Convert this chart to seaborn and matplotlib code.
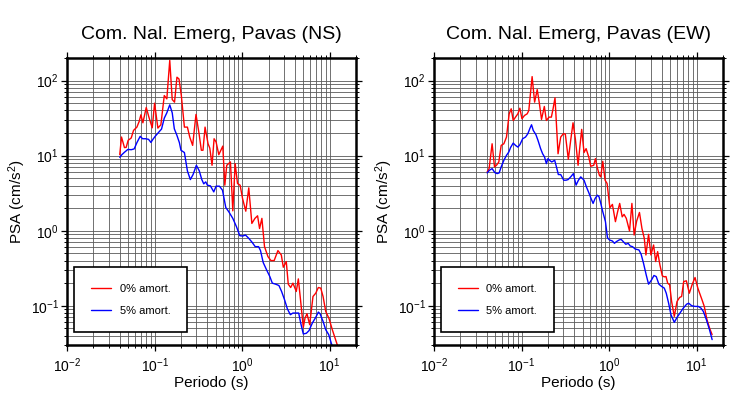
import numpy as np
import pandas as pd
import matplotlib
matplotlib.use("Agg")
import matplotlib.pyplot as plt
import seaborn as sns

# ---------------- data ----------------
series_names = ["0% amort.", "5% amort."]
titles = ["Com. Nal. Emerg, Pavas (NS)", "Com. Nal. Emerg, Pavas (EW)"]

ns_t0 = [0.040, 0.0419, 0.0453, 0.0474, 0.0499, 0.0541, 0.0575, 0.0628, 0.0667, 0.0698,
         0.0735, 0.0803, 0.0861, 0.094, 0.100, 0.109, 0.118, 0.129, 0.138, 0.149,
         0.159, 0.169, 0.180, 0.190, 0.202, 0.219, 0.237, 0.252, 0.272, 0.297,
         0.322, 0.342, 0.357, 0.377, 0.408, 0.427, 0.453, 0.478, 0.504, 0.541,
         0.601, 0.634, 0.667, 0.735, 0.782, 0.832, 0.885, 0.948, 1.01, 1.10,
         1.19, 1.29, 1.40, 1.50, 1.58, 1.68, 1.80, 1.97, 2.13, 2.32,
         2.56, 2.80, 2.95, 3.19, 3.36, 3.58, 3.80, 4.15, 4.38, 4.66,
         4.99, 5.22, 5.50, 5.90, 6.44, 6.92, 7.41, 7.89, 8.39, 9.00,
         9.83, 10.7, 12.0, 13.0]
ns_psa0 = [10.3, 17.7, 12.8, 12.9, 16.0, 17.2, 21.7, 24.0, 28.6, 35.0,
           27.4, 43.8, 32.6, 23.5, 50.0, 23.3, 25.8, 63.2, 57.1, 186,
           55.9, 51.6, 111, 105, 63.2, 24.0, 24.0, 17.7, 13.7, 35.4,
           19.6, 11.8, 11.8, 24.0, 14.4, 12.6, 7.44, 16.8, 15.2, 10.3,
           13.4, 4.04, 7.44, 8.24, 1.84, 7.83, 4.25, 4.04, 2.69, 1.82,
           3.72, 1.25, 1.46, 1.58, 1.07, 1.46, 0.613, 0.452, 0.400, 0.400,
           0.543, 0.475, 0.326, 0.388, 0.194, 0.175, 0.200, 0.155, 0.228, 0.114,
           0.0516, 0.0686, 0.0783, 0.0560, 0.133, 0.147, 0.175, 0.172, 0.133, 0.0841,
           0.0672, 0.0480, 0.0319, 0.024]

ns_t5 = [0.040, 0.0423, 0.0453, 0.0495, 0.0541, 0.0585, 0.0628, 0.0685, 0.0729, 0.0789,
         0.0853, 0.0908, 0.0957, 0.102, 0.111, 0.120, 0.129, 0.138, 0.149, 0.159,
         0.168, 0.180, 0.192, 0.200, 0.219, 0.237, 0.256, 0.275, 0.300, 0.324,
         0.345, 0.364, 0.384, 0.401, 0.434, 0.474, 0.504, 0.550, 0.596, 0.650,
         0.703, 0.782, 0.861, 0.940, 1.02, 1.09, 1.19, 1.30, 1.41, 1.54,
         1.62, 1.74, 1.90, 2.07, 2.21, 2.41, 2.63, 2.82, 3.05, 3.28,
         3.55, 3.80, 4.19, 4.42, 4.66, 4.99, 5.41, 5.80, 6.33, 6.92,
         7.41, 7.75, 8.39, 9.00, 9.74, 10.4, 11.2]
ns_psa5 = [9.5, 10.3, 11.1, 12.1, 12.0, 12.3, 14.9, 18.1, 16.8, 16.8,
           16.5, 15.0, 16.5, 18.2, 20.4, 22.6, 31.6, 37.2, 47.5, 37.2,
           22.8, 18.6, 14.9, 11.8, 11.0, 6.26, 4.80, 5.60, 7.44, 6.26,
           4.85, 4.21, 4.47, 4.04, 3.96, 3.29, 3.92, 3.92, 3.47, 2.04,
           1.79, 1.46, 1.13, 0.858, 0.850, 0.876, 0.791, 0.700, 0.613, 0.613,
           0.543, 0.376, 0.301, 0.245, 0.200, 0.194, 0.186, 0.155, 0.120, 0.0912,
           0.076, 0.080, 0.080, 0.080, 0.0589, 0.0421, 0.0430, 0.0466, 0.0589, 0.070,
           0.0824, 0.0783, 0.0619, 0.048, 0.0412, 0.0319, 0.025]

ew_t0 = [0.0405, 0.0426, 0.0461, 0.0491, 0.0517, 0.0550, 0.0585, 0.0628, 0.0673, 0.0722,
         0.0762, 0.0803, 0.0853, 0.0908, 0.0957, 0.101, 0.108, 0.116, 0.121, 0.132,
         0.141, 0.151, 0.159, 0.169, 0.182, 0.192, 0.206, 0.219, 0.229, 0.241,
         0.261, 0.280, 0.300, 0.316, 0.342, 0.364, 0.387, 0.412, 0.442, 0.461,
         0.486, 0.517, 0.546, 0.585, 0.617, 0.667, 0.698, 0.729, 0.774, 0.803,
         0.846, 0.899, 0.948, 1.02, 1.09, 1.18, 1.25, 1.32, 1.41, 1.48,
         1.57, 1.71, 1.82, 1.93, 2.06, 2.22, 2.37, 2.52, 2.63, 2.82,
         3.00, 3.22, 3.40, 3.58, 3.80, 4.05, 4.26, 4.46, 4.66, 4.91,
         5.17, 5.55, 5.96, 6.38, 6.73, 7.10, 7.62, 8.24, 8.85, 9.57,
         10.3, 10.8, 11.5, 12.2, 13.1, 14.1, 15.0]
ew_psa0 = [6.07, 6.72, 14.4, 7.07, 7.44, 8.24, 13.7, 14.4, 17.7, 36.1,
           42.1, 29.4, 32.6, 36.1, 42.9, 31.0, 34.3, 36.1, 40.0, 113,
           51.6, 76.0, 51.6, 30.4, 45.2, 29.4, 32.6, 32.6, 42.1, 58.9,
           10.6, 17.7, 19.6, 19.4, 8.94, 16.0, 27.4, 16.5, 7.44, 12.4,
           22.4, 11.0, 12.4, 9.60, 7.22, 7.44, 9.12, 7.07, 5.48, 5.21,
           8.41, 4.71, 4.25, 2.02, 2.24, 1.32, 1.79, 2.31, 1.53, 1.65,
           1.46, 0.99, 2.31, 0.876, 1.34, 1.75, 1.07, 0.791, 0.475, 0.894,
           0.475, 0.645, 0.388, 0.526, 0.350, 0.250, 0.243, 0.245, 0.200, 0.190,
           0.114, 0.0722, 0.114, 0.129, 0.133, 0.210, 0.215, 0.147, 0.190, 0.238,
           0.172, 0.147, 0.120, 0.098, 0.0652, 0.0495, 0.0412]

ew_t5 = [0.0405, 0.0430, 0.0461, 0.0495, 0.0526, 0.0555, 0.0585, 0.0628, 0.0673, 0.0716,
         0.0748, 0.0803, 0.0853, 0.0908, 0.0957, 0.103, 0.111, 0.118, 0.125, 0.130,
         0.136, 0.146, 0.154, 0.165, 0.174, 0.183, 0.192, 0.200, 0.211, 0.221,
         0.239, 0.252, 0.263, 0.280, 0.303, 0.322, 0.340, 0.364, 0.391, 0.419,
         0.446, 0.474, 0.517, 0.550, 0.585, 0.617, 0.656, 0.692, 0.735, 0.767,
         0.803, 0.846, 0.908, 0.957, 1.01, 1.09, 1.15, 1.21, 1.30, 1.37,
         1.45, 1.55, 1.65, 1.74, 1.85, 1.98, 2.19, 2.32, 2.47, 2.65,
         2.82, 3.05, 3.25, 3.45, 3.70, 3.97, 4.26, 4.49, 4.78, 5.08,
         5.55, 5.96, 6.44, 7.03, 7.68, 8.10, 8.77, 9.57, 10.4, 11.2,
         11.9, 12.9, 14.0, 15.0]
ew_psa5 = [5.89, 6.39, 6.72, 5.95, 5.77, 5.89, 7.07, 8.67, 10.1, 11.2,
           12.8, 14.7, 13.7, 13.0, 14.0, 16.8, 17.7, 19.6, 23.3, 25.8,
           21.7, 19.0, 16.0, 12.4, 10.6, 9.60, 7.83, 9.12, 8.58, 8.24,
           8.67, 6.86, 5.60, 5.60, 4.71, 4.71, 4.80, 5.21, 5.77, 4.04,
           4.71, 5.21, 4.71, 3.84, 3.23, 2.74, 2.31, 2.69, 2.97, 2.83,
           2.31, 1.79, 1.32, 0.807, 0.752, 0.729, 0.679, 0.715, 0.752, 0.767,
           0.715, 0.659, 0.679, 0.626, 0.613, 0.571, 0.554, 0.485, 0.368, 0.258,
           0.194, 0.221, 0.253, 0.245, 0.194, 0.181, 0.172, 0.147, 0.108, 0.076,
           0.0601, 0.070, 0.080, 0.0931, 0.105, 0.108, 0.100, 0.098, 0.098, 0.093,
           0.084, 0.0652, 0.048, 0.0354]

# ---------------- style ----------------
sns.set_theme(style="white")
plt.rcParams["font.family"] = ["Liberation Sans", "DejaVu Sans"]
plt.rcParams["mathtext.fontset"] = "custom"
plt.rcParams["mathtext.rm"] = "Liberation Sans"
plt.rcParams["mathtext.it"] = "Liberation Sans:italic"
plt.rcParams["mathtext.bf"] = "Liberation Sans:bold"
for key in ["text.color", "axes.labelcolor", "xtick.color", "ytick.color"]:
    plt.rcParams[key] = "black"

palette = {series_names[0]: "#ff0000", series_names[1]: "#0000ff"}

fig = plt.figure(figsize=(7.3, 4.0), dpi=100)
positions = [[0.0918, 0.1375, 0.396, 0.7175], [0.5945, 0.1375, 0.396, 0.7175]]
panels = [((ns_t0, ns_psa0), (ns_t5, ns_psa5)), ((ew_t0, ew_psa0), (ew_t5, ew_psa5))]

for pos, title, (s0, s5) in zip(positions, titles, panels):
    ax = fig.add_axes(pos)
    df = pd.concat([
        pd.DataFrame({"Periodo": s0[0], "PSA": s0[1], "Serie": series_names[0]}),
        pd.DataFrame({"Periodo": s5[0], "PSA": s5[1], "Serie": series_names[1]}),
    ], ignore_index=True)
    sns.lineplot(data=df, x="Periodo", y="PSA", hue="Serie", palette=palette,
                 estimator=None, sort=False, linewidth=1.0, ax=ax)
    ax.set_xscale("log")
    ax.set_yscale("log")
    ax.set_xlim(0.01, 20)
    ax.set_ylim(0.03, 200)
    ax.xaxis.set_minor_locator(matplotlib.ticker.LogLocator(base=10, subs=np.arange(2, 10)))
    ax.yaxis.set_minor_locator(matplotlib.ticker.LogLocator(base=10, subs=np.arange(2, 10)))
    ax.xaxis.set_minor_formatter(matplotlib.ticker.NullFormatter())
    ax.yaxis.set_minor_formatter(matplotlib.ticker.NullFormatter())
    ax.grid(True, which="both", color="#5a5a5a", linewidth=0.6)
    ax.set_axisbelow(True)
    for sp in ax.spines.values():
        sp.set_linewidth(1.8)
        sp.set_color("black")
    ax.tick_params(which="both", direction="out", top=True, right=True,
                   bottom=True, left=True, color="black")
    ax.tick_params(which="major", length=4, width=0.9, labelsize=10)
    ax.tick_params(axis="x", which="major", pad=4)
    ax.tick_params(axis="y", which="major", pad=2)
    ax.tick_params(which="minor", length=2.5, width=0.7)
    ax.set_xlabel("Periodo (s)", fontsize=11, labelpad=1)
    ax.set_ylabel("PSA (cm/s$^2$)", fontsize=11, labelpad=2)
    ax.set_title(title, fontsize=14, pad=14, color="black")
    leg = ax.legend(loc="upper left", bbox_to_anchor=(0.024, 0.272), borderaxespad=0,
                    fontsize=8, frameon=True, fancybox=False, framealpha=1,
                    edgecolor="black", borderpad=1.5, handlelength=1.8,
                    handletextpad=0.8, labelspacing=1.1, title=None)
    leg.get_frame().set_linewidth(1.2)
    for txt in leg.get_texts():
        txt.set_color("black")

fig.savefig("out.png", dpi=100)
